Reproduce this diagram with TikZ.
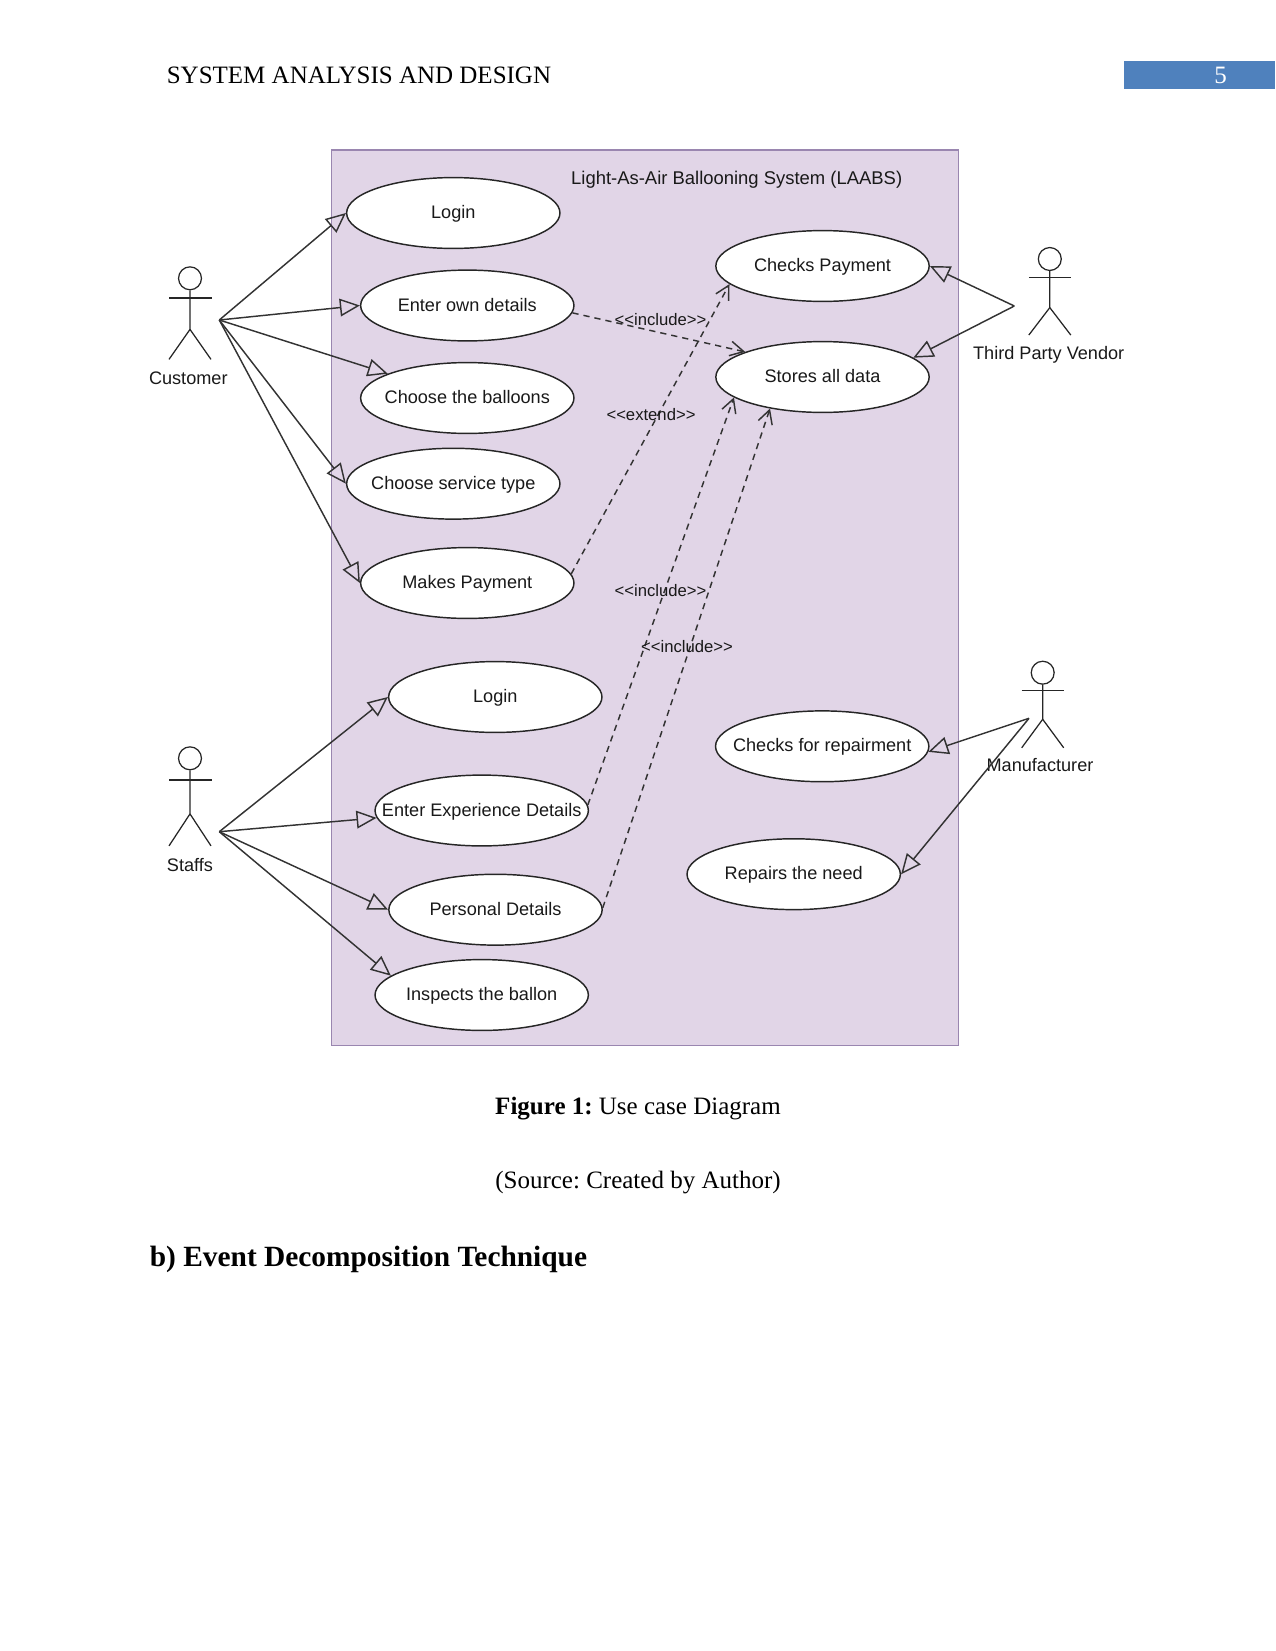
\documentclass[tikz,border=0pt]{standalone}
\usepackage{fontspec}
\setmainfont{Liberation Serif}
\newfontfamily\diagfont{Liberation Sans}
\usepackage{xcolor}
\usetikzlibrary{shapes.geometric, arrows.meta, positioning}
\definecolor{systemfill}{HTML}{E1D5E7}
\definecolor{systemline}{HTML}{9A86B0}
\definecolor{pageblue}{HTML}{4F81BD}
\newcommand{\ucname}[1]{\raisebox{-2.7bp}[0pt][0pt]{\makebox[0pt]{#1}}}
\frenchspacing

\begin{document}
\begin{tikzpicture}[
            x=0.48bp, y=-0.48bp,
            boundary/.style={rectangle, draw=systemline, fill=systemfill, line width=0.5bp, minimum width=300.5bp, minimum height=429.6bp, inner sep=0pt},
            usecase/.style={ellipse, draw=black!85, fill=white, line width=0.7bp, minimum width=102.4bp, minimum height=34bp, inner sep=0pt, font=\diagfont\fontsize{8.7bp}{10bp}\selectfont, text=black!90},
            actorname/.style={font=\diagfont\fontsize{8.7bp}{10bp}\selectfont, text=black!90, inner sep=0pt},
            stereotype/.style={font=\diagfont\fontsize{8bp}{10bp}\selectfont, text=black!90, inner sep=0pt},
            actorhead/.style={circle, draw=black!85, line width=0.6bp, minimum size=11bp, inner sep=0pt},
            actorline/.style={draw=black!85, line width=0.6bp},
            generalize/.style={draw=black!80, line width=0.7bp, -{Triangle[open, length=9.6bp, width=8.5bp]}},
            dependency/.style={draw=black!80, line width=0.7bp, dash pattern=on 3bp off 2.4bp, -{Straight Barb[length=6.5bp, width=7bp]}},
            pagetext/.style={font=\fontsize{12bp}{14bp}\selectfont, inner sep=0pt}
        ]
\useasboundingbox (0,0) rectangle (1275,1651);

% Page header
            \node[pagetext] (header_title) at (359,75) {SYSTEM ANALYSIS AND DESIGN};
            \node[rectangle, fill=pageblue, minimum width=72.5bp, minimum height=13.7bp, inner sep=0pt] (page_box) at (1199.5,75) {};
            \node[pagetext, text=white] (page_number) at (1220.6,75) {5};

% System boundary
            \node[boundary] (system_box) at (645,597.5) {};
            \node[font=\diagfont\fontsize{8.85bp}{10bp}\selectfont, text=black!90, inner sep=0pt] (system_title) at (736.7,180) {Light-As-Air Ballooning System (LAABS)};

% Customer use cases
            \node[usecase] (login_customer) at (453.3,213) {\ucname{Login}};
            \node[usecase] (own_details) at (467.3,305.5) {\ucname{Enter own details}};
            \node[usecase] (choose_balloons) at (467.3,398) {\ucname{Choose the balloons}};
            \node[usecase] (service_type) at (453.3,483.7) {\ucname{Choose service type}};
            \node[usecase] (makes_payment) at (467.3,583) {\ucname{Makes Payment}};

% Staff use cases
            \node[usecase] (login_staff) at (495.3,697) {\ucname{Login}};
            \node[usecase] (experience_details) at (481.7,810.5) {\ucname{Enter Experience Details}};
            \node[usecase] (personal_details) at (495.5,909.7) {\ucname{Personal Details}};
            \node[usecase] (inspects_ballon) at (481.7,995) {\ucname{Inspects the ballon}};

% Vendor and manufacturer use cases
            \node[usecase] (checks_payment) at (822.5,266) {\ucname{Checks Payment}};
            \node[usecase] (stores_data) at (822.5,377) {\ucname{Stores all data}};
            \node[usecase] (checks_repair) at (822.2,746.3) {\ucname{Checks for repairment}};
            \node[usecase] (repairs_need) at (793.7,874.2) {\ucname{Repairs the need}};

% Customer actor
            \node[actorhead] (customer_head) at (190,278.3) {};
            \draw[actorline] (customer_head.south) -- ++(0,39) coordinate (customer_hip) -- ++(-21,30);
            \draw[actorline] (customer_hip) -- ++(21,30);
            \draw[actorline] (customer_head.south) ++(-21,7.5) -- ++(42.5,0);
            \node[actorname] (customer_name) at (188.3,378.3) {Customer};
            \coordinate (customer_hand) at (219.3,320);

% Staffs actor
            \node[actorhead] (staffs_head) at (190,758.3) {};
            \draw[actorline] (staffs_head.south) -- ++(0,43.5) coordinate (staffs_hip) -- ++(-21,32);
            \draw[actorline] (staffs_hip) -- ++(21,32);
            \draw[actorline] (staffs_head.south) ++(-21,9.5) -- ++(42.5,0);
            \node[actorname] (staffs_name) at (190,865) {Staffs};
            \coordinate (staffs_hand) at (219.3,831.7);

% Third party vendor actor
            \node[actorhead] (vendor_head) at (1049.8,259) {};
            \draw[actorline] (vendor_head.south) -- ++(0,36.5) coordinate (vendor_hip) -- ++(-21,27.5);
            \draw[actorline] (vendor_hip) -- ++(21,27.5);
            \draw[actorline] (vendor_head.south) ++(-21,6.5) -- ++(42.5,0);
            \node[actorname] (vendor_name) at (1048.7,354.7) {Third Party Vendor};
            \coordinate (vendor_hand) at (1014.3,306);

% Manufacturer actor
            \node[actorhead] (manufacturer_head) at (1042.7,672.7) {};
            \draw[actorline] (manufacturer_head.south) -- ++(0,34.5) coordinate (manufacturer_hip) -- ++(-21,28.5);
            \draw[actorline] (manufacturer_hip) -- ++(21,28.5);
            \draw[actorline] (manufacturer_head.south) ++(-21,5.5) -- ++(42.5,0);
            \node[actorname] (manufacturer_name) at (1040,765) {Manufacturer};
            \coordinate (manufacturer_hand) at (1029,718.3);

% Actor connectors
            \draw[generalize] (customer_hand) -- (login_customer.west);
            \draw[generalize] (customer_hand) -- (own_details.west);
            \draw[generalize] (customer_hand) -- (choose_balloons.163);
            \draw[generalize] (customer_hand) -- (service_type.west);
            \draw[generalize] (customer_hand) -- (makes_payment.west);
            \draw[generalize] (staffs_hand) -- (login_staff.west);
            \draw[generalize] (staffs_hand) -- (experience_details.184);
            \draw[generalize] (staffs_hand) -- (personal_details.west);
            \draw[generalize] (staffs_hand) -- (inspects_ballon.168);
            \draw[generalize] (vendor_hand) -- (checks_payment.east);
            \draw[generalize] (vendor_hand) -- (stores_data.12.5);
            \draw[generalize] (manufacturer_hand) -- (checks_repair.-3.5);
            \draw[generalize] (manufacturer_hand) -- (repairs_need.east);

% Include and extend connectors
            \draw[dependency] (own_details.-4) -- (stores_data.162);
            \draw[dependency] (makes_payment.5.5) -- (checks_payment.191.4);
            \draw[dependency] (experience_details.3.8) -- (stores_data.193.5);
            \draw[dependency] (personal_details.1.6) -- (stores_data.211.3);

            \node[stereotype] (include_own) at (660.5,320) {<<include>>};
            \node[stereotype] (extend_payment) at (651,415) {<<extend>>};
            \node[stereotype] (include_experience) at (660.5,591) {<<include>>};
            \node[stereotype] (include_personal) at (687,646.7) {<<include>>};

% Caption and next heading
            \node[pagetext] (caption) at (638,1108.7) {\textbf{Figure 1:} Use case Diagram};
            \node[pagetext] (source_note) at (638,1182.8) {(Source: Created by Author)};
            \node[pagetext, font=\bfseries\fontsize{14.1bp}{16bp}\selectfont, right] (next_heading) at (149.5,1259) {b) Event Decomposition Technique};

        \end{tikzpicture}
\end{document}
